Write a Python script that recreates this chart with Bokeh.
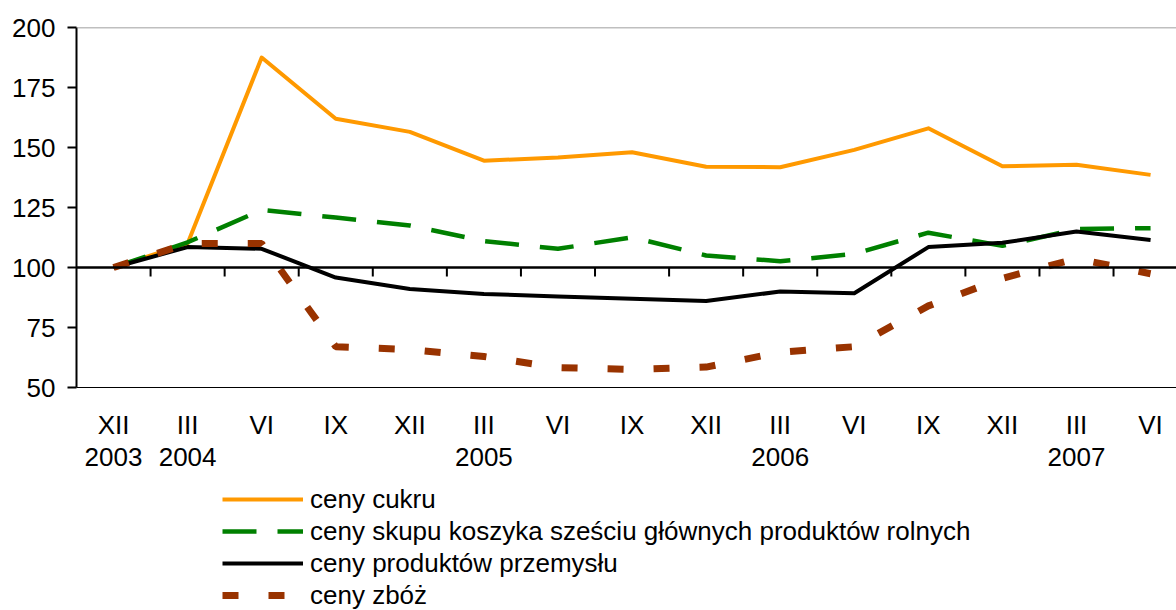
from bokeh.plotting import figure
from bokeh.models import FixedTicker, Span, Legend, LegendItem, Range1d
from bokeh.layouts import column
from bokeh.embed import file_html
from bokeh.resources import INLINE

# ---- data ----
months = ["XII", "III", "VI", "IX", "XII", "III", "VI", "IX", "XII", "III", "VI", "IX", "XII", "III", "VI"]
years = ["2003", "2004", "", "", "", "2005", "", "", "", "2006", "", "", "", "2007", ""]
sugar = [100, 110, 187.5, 162, 156.5, 144.5, 145.8, 148, 142, 141.8, 149, 158, 142.2, 142.8, 138.6]
basket = [100, 110.5, 124, 120.8, 117.5, 111, 107.8, 112.6, 105, 102.6, 105.7, 114.5, 109, 116, 116.4]
industry = [100, 108.5, 107.8, 95.8, 91, 89, 87.9, 87, 86, 90, 89.3, 108.5, 110.3, 115, 111.5]
grain = [100, 110, 110, 67, 65.8, 62.9, 58.3, 57.5, 58.5, 64.7, 67, 84, 95.5, 103.7, 97.4]
y_ticks = [50, 75, 100, 125, 150, 175, 200]
names = ["ceny cukru",
         "ceny skupu koszyka sześciu głównych produktów rolnych",
         "ceny produktów przemysłu",
         "ceny zbóż"]

FONT = "Liberation Sans"
FS = "26px"

styles = [dict(line_color="#FF9900", line_width=4, line_join="round"),
          dict(line_color="#008000", line_width=4.5, line_dash="34 21"),
          dict(line_color="black", line_width=4, line_join="round"),
          dict(line_color="#993300", line_width=7, line_dash="16 30")]

n = len(months)
xs = [i + 0.5 for i in range(n)]
series = [sugar, basket, industry, grain]

p = figure(width=1176, height=480, output_backend="svg", toolbar_location=None,
           x_range=Range1d(0, 14.85), y_range=Range1d(50, 200),
           min_border_left=76, min_border_top=27, min_border_bottom=93, min_border_right=0)
p.outline_line_color = None
p.xgrid.visible = False
p.ygrid.visible = False
p.background_fill_color = "white"
p.border_fill_color = "white"

# y axis
p.yaxis.ticker = FixedTicker(ticks=y_ticks)
p.yaxis.axis_line_color = "black"
p.yaxis.axis_line_width = 2
p.yaxis.major_tick_line_color = "black"
p.yaxis.major_tick_line_width = 2
p.yaxis.major_tick_out = 9
p.yaxis.major_tick_in = 0
p.yaxis.minor_tick_line_color = None
p.yaxis.major_label_standoff = 12
p.yaxis.major_label_text_font = FONT
p.yaxis.major_label_text_font_size = FS
p.yaxis.major_label_text_color = "black"

# x axis (bottom border + category labels)
p.xaxis.ticker = FixedTicker(ticks=xs)
p.xaxis.major_label_overrides = {x: (m + "\n" + y if y else m) for x, m, y in zip(xs, months, years)}
p.xaxis.axis_line_color = "black"
p.xaxis.axis_line_width = 1
p.xaxis.major_tick_line_color = None
p.xaxis.major_tick_out = 0
p.xaxis.major_tick_in = 0
p.xaxis.minor_tick_line_color = None
p.xaxis.major_label_standoff = 22
p.xaxis.major_label_text_font = FONT
p.xaxis.major_label_text_font_size = FS
p.xaxis.major_label_text_color = "black"
p.xaxis.major_label_text_line_height = 1.07

# top border / gridline at 200
p.add_layout(Span(location=y_ticks[-1], dimension="width", line_color="#808080", line_width=1.5))

# series
for vals, st in zip(series, styles):
    p.line(xs, vals, **st)

# category axis crossing at 100
p.add_layout(Span(location=100, dimension="width", line_color="black", line_width=2.5))
bx = list(range(1, n))
p.segment(x0=bx, y0=[100] * len(bx), x1=bx, y1=[96.2] * len(bx), line_color="black", line_width=2)

# ---- legend figure (frames are aligned with the chart above) ----
q = figure(width=1176, height=130, output_backend="svg", toolbar_location=None,
           x_range=Range1d(0, 1), y_range=Range1d(0, 1),
           min_border_left=0, min_border_top=0, min_border_bottom=0, min_border_right=0,
           x_axis_type=None, y_axis_type=None)
q.outline_line_color = None
q.xgrid.visible = False
q.ygrid.visible = False
items = []
for name, vals, st in zip(names, series, styles):
    r = q.line(xs, vals, **st)  # outside q's visible range; used only for legend samples
    items.append(LegendItem(label=name, renderers=[r]))
legend = Legend(items=items, location=(146, -1), orientation="vertical",
                glyph_width=81, glyph_height=32, label_height=32, spacing=0,
                padding=0, margin=0, label_standoff=7,
                label_text_font=FONT, label_text_font_size=FS, label_text_color="black",
                border_line_color=None, background_fill_alpha=0)
q.add_layout(legend, "center")

layout = column(p, q, spacing=0)
open("out.html", "w").write(file_html(layout, INLINE))
